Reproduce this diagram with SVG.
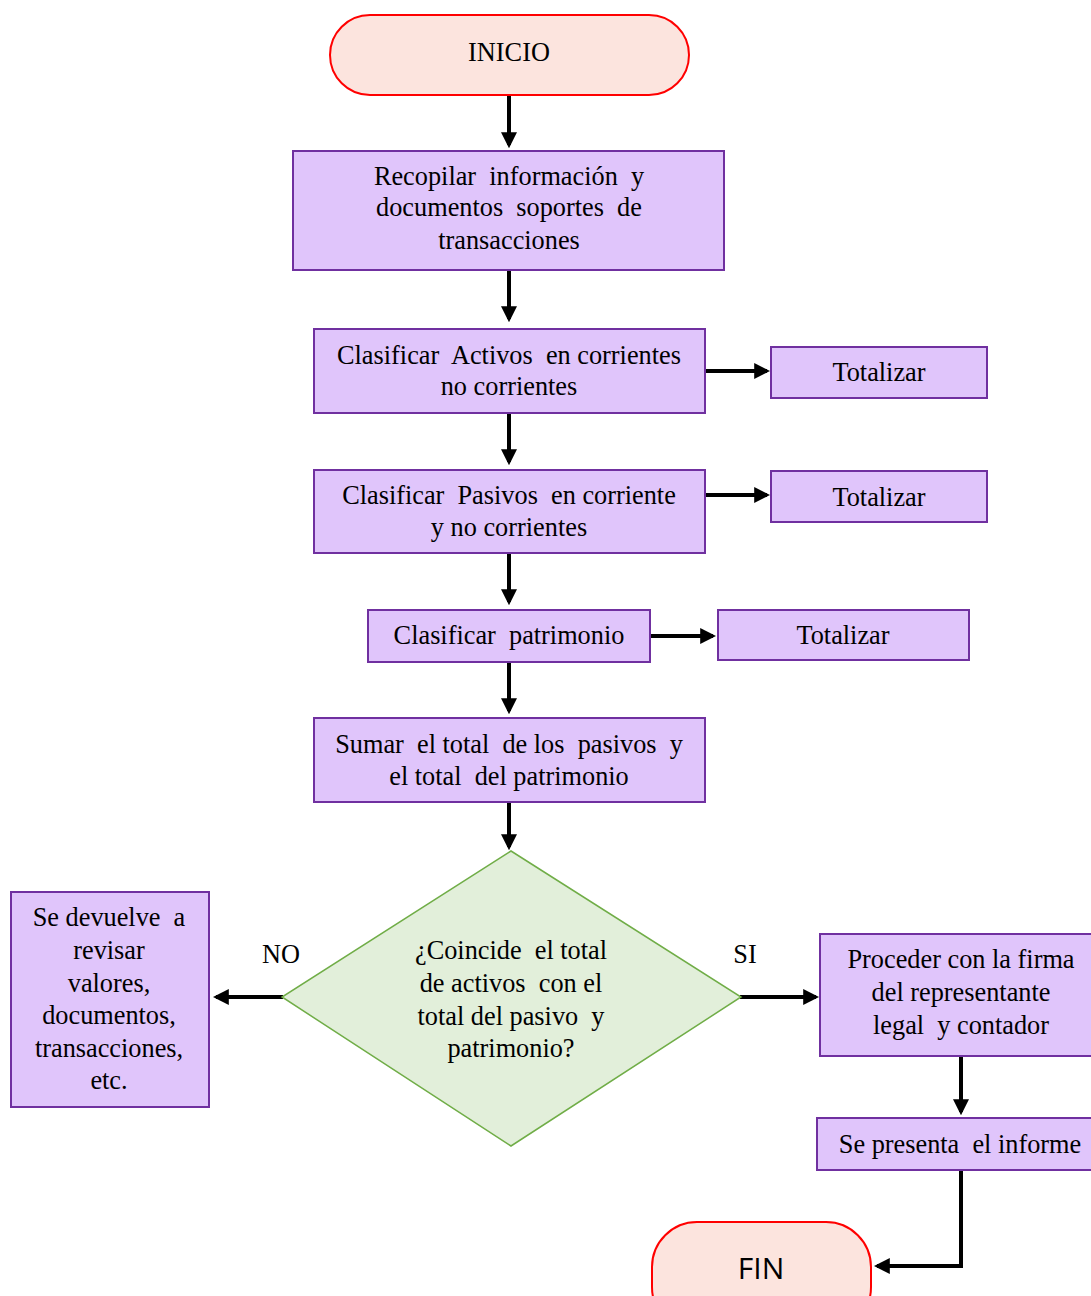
<svg xmlns="http://www.w3.org/2000/svg" width="1091" height="1296" viewBox="0 0 1091 1296">
<defs>
<marker id="ah" markerWidth="4" markerHeight="4" refX="3.2" refY="2" orient="auto" markerUnits="strokeWidth">
<path d="M0,0 L4,2 L0,4 Z" fill="#000"/>
</marker>
<style>
.box{fill:#e0c5fb;stroke:#7030a0;stroke-width:2}
.term{fill:#fce4de;stroke:#ff0000;stroke-width:2}
.dec{fill:#e2efda;stroke:#70ad47;stroke-width:1.5}
.t{font-family:"Liberation Serif","Times New Roman","DejaVu Serif",serif;font-size:26.3px;fill:#000;text-anchor:middle;white-space:pre}
.s{font-family:"Open Sans","Liberation Sans",sans-serif;font-size:30px;fill:#000;text-anchor:middle}
.c{stroke:#000;stroke-width:4;fill:none;marker-end:url(#ah)}
</style>
</defs>
<rect width="1091" height="1296" fill="#fff"/>
<g id="connectors">
<line class="c" x1="509" y1="96" x2="509" y2="145"/>
<line class="c" x1="509" y1="270" x2="509" y2="319"/>
<line class="c" x1="509" y1="413" x2="509" y2="462"/>
<line class="c" x1="509" y1="553" x2="509" y2="602"/>
<line class="c" x1="509" y1="662" x2="509" y2="711"/>
<line class="c" x1="509" y1="802" x2="509" y2="847"/>
<line class="c" x1="705" y1="371" x2="767" y2="371"/>
<line class="c" x1="705" y1="495" x2="767" y2="495"/>
<line class="c" x1="650" y1="636" x2="713" y2="636"/>
<line class="c" x1="283" y1="997" x2="216" y2="997"/>
<line class="c" x1="740" y1="997" x2="816" y2="997"/>
<line class="c" x1="961" y1="1057" x2="961" y2="1112"/>
<polyline class="c" points="961,1170 961,1266 877,1266"/>
</g>
<g id="inicio">
<rect class="term" x="330" y="15" width="359" height="80" rx="40"/>
<text class="t" x="509" y="61" xml:space="preserve">INICIO</text>
</g>
<g id="recopilar">
<rect class="box" x="293" y="151" width="431" height="119"/>
<text class="t" x="509" y="185" xml:space="preserve">Recopilar  información  y</text>
<text class="t" x="509" y="216" xml:space="preserve">documentos  soportes  de</text>
<text class="t" x="509" y="249" xml:space="preserve">transacciones</text>
</g>
<g id="activos">
<rect class="box" x="314" y="329" width="391" height="84"/>
<text class="t" x="509" y="364" xml:space="preserve">Clasificar  Activos  en corrientes</text>
<text class="t" x="509" y="395" xml:space="preserve">no corrientes</text>
</g>
<g id="tot1">
<rect class="box" x="771" y="347" width="216" height="51"/>
<text class="t" x="879" y="381" xml:space="preserve">Totalizar</text>
</g>
<g id="pasivos">
<rect class="box" x="314" y="470" width="391" height="83"/>
<text class="t" x="509" y="504" xml:space="preserve">Clasificar  Pasivos  en corriente</text>
<text class="t" x="509" y="536" xml:space="preserve">y no corrientes</text>
</g>
<g id="tot2">
<rect class="box" x="771" y="471" width="216" height="51"/>
<text class="t" x="879" y="506" xml:space="preserve">Totalizar</text>
</g>
<g id="patrimonio">
<rect class="box" x="368" y="610" width="282" height="52"/>
<text class="t" x="509" y="644" xml:space="preserve">Clasificar  patrimonio</text>
</g>
<g id="tot3">
<rect class="box" x="718" y="610" width="251" height="50"/>
<text class="t" x="843" y="644" xml:space="preserve">Totalizar</text>
</g>
<g id="sumar">
<rect class="box" x="314" y="718" width="391" height="84"/>
<text class="t" x="509" y="753" xml:space="preserve">Sumar  el total  de los  pasivos  y</text>
<text class="t" x="509" y="785" xml:space="preserve">el total  del patrimonio</text>
</g>
<g id="decision">
<polygon class="dec" points="511,851 741,997 511,1146 282,997"/>
<text class="t" x="511" y="959" xml:space="preserve">¿Coincide  el total</text>
<text class="t" x="511" y="992" xml:space="preserve">de activos  con el</text>
<text class="t" x="511" y="1025" xml:space="preserve">total del pasivo  y</text>
<text class="t" x="511" y="1057" xml:space="preserve">patrimonio?</text>
</g>
<g id="labels">
<text class="t" x="281" y="963">NO</text>
<text class="t" x="745" y="963">SI</text>
</g>
<g id="devuelve">
<rect class="box" x="11" y="892" width="198" height="215"/>
<text class="t" x="109" y="926" xml:space="preserve">Se devuelve  a</text>
<text class="t" x="109" y="959" xml:space="preserve">revisar</text>
<text class="t" x="109" y="992" xml:space="preserve">valores,</text>
<text class="t" x="109" y="1024" xml:space="preserve">documentos,</text>
<text class="t" x="109" y="1057" xml:space="preserve">transacciones,</text>
<text class="t" x="109" y="1089" xml:space="preserve">etc.</text>
</g>
<g id="proceder">
<rect class="box" x="820" y="934" width="275" height="122"/>
<text class="t" x="961" y="968" xml:space="preserve">Proceder con la firma</text>
<text class="t" x="961" y="1001" xml:space="preserve">del representante</text>
<text class="t" x="961" y="1034" xml:space="preserve">legal  y contador</text>
</g>
<g id="presenta">
<rect class="box" x="817" y="1118" width="278" height="52"/>
<text class="t" x="960" y="1153" xml:space="preserve">Se presenta  el informe</text>
</g>
<g id="fin">
<rect class="term" x="652" y="1222" width="219" height="110" rx="45"/>
<text class="s" x="761" y="1279">FIN</text>
</g>
</svg>
